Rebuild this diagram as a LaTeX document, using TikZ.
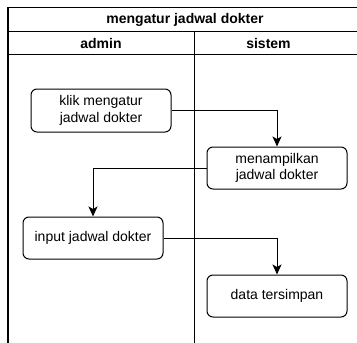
\documentclass[tikz,border=0pt]{standalone}
\usepackage{fontspec}
\setmainfont{Liberation Sans}
\usetikzlibrary{arrows.meta}
\begin{document}
\begin{tikzpicture}[x=1pt,y=-1pt,
  act/.style={draw,rounded corners=6pt,minimum width=140pt,minimum height=42pt,align=center,font=\fontsize{14}{16.5}\selectfont,line width=1pt,inner sep=2pt},
  head/.style={font=\bfseries\fontsize{14}{16}\selectfont,inner sep=0pt},
  lane/.style={line width=1pt},
  flow/.style={line width=1pt,-{Stealth[length=10pt,width=9pt,inset=2.5pt]}}]
\useasboundingbox (0,0) rectangle (357,343);
% frame
\coordinate (tl) at (8,7.5);
\coordinate (tr) at (357,7.5);
\coordinate (bl) at (8,343);
\coordinate (t1l) at (8,31);
\coordinate (t1r) at (357,31);
\coordinate (t2l) at (8,54);
\coordinate (t2r) at (357,54);
\coordinate (dt) at (194,31);
\coordinate (db) at (194,343);
\draw[line width=1.5pt] (tr) -- (tl) -- (bl);
\draw[lane] (t1l) -- (t1r);
\draw[lane] (t2l) -- (t2r);
\draw[lane] (dt) -- (db);
\node[head] (title) at (185,19.5) {mengatur jadwal dokter};
\node[head] (admin) at (101,43) {admin};
\node[head] (sistem) at (268.5,43) {sistem};
% activities
\node[act,minimum height=43pt] (b1) at (101,110.5) {klik mengatur\\jadwal dokter};
\node[act] (b2) at (277,168) {menampilkan\\jadwal dokter};
\node[act] (b3) at (93,238) {input jadwal dokter};
\node[act] (b4) at (277,296) {data tersimpan};
\draw[flow] (b1.east) -| (b2.north);
\draw[flow] (b2.west) -| (b3.north);
\draw[flow] (b3.east) -| (b4.north);
\end{tikzpicture}
\end{document}
